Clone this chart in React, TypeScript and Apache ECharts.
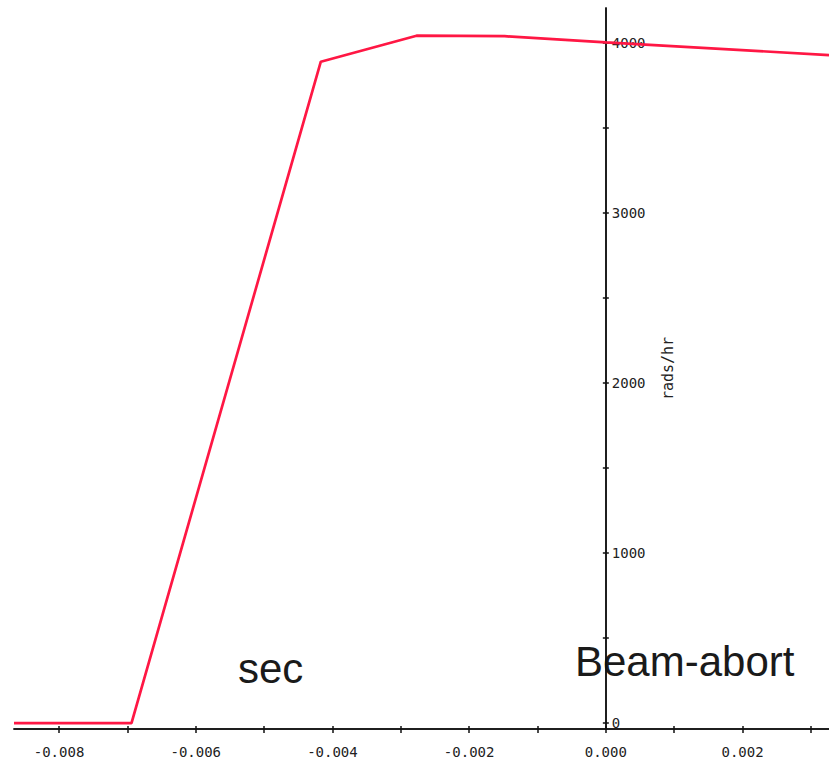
import React, { useEffect, useRef } from "react";
import * as echarts from "echarts";

// Time (s) relative to beam abort, and dose rate (rads/hr)
const timeSec = [-0.008659, -0.00694, -0.00417, -0.00277, -0.00148, 0, 0.003265];
const doseRate = [0, 0, 3890, 4043, 4040, 4004, 3929];

const xTickValues = [-0.008, -0.007, -0.006, -0.005, -0.004, -0.003, -0.002, -0.001, 0, 0.001, 0.002, 0.003];
const xLabelValues = [-0.008, -0.006, -0.004, -0.002, 0, 0.002];
const yTickValues = [0, 500, 1000, 1500, 2000, 2500, 3000, 3500, 4000];
const yLabelValues = [0, 1000, 2000, 3000, 4000];

const X_MIN = -0.008659;
const X_MAX = 0.003265;
const Y_MIN = -35;
const Y_MAX = 4206;

const MONO = "'DejaVu Sans Mono', 'Liberation Mono', monospace";
const AXIS_COLOR = "#111";

const CHART_W = 829;
const CHART_H = 761;
const GRID_LEFT = 14;
const GRID_RIGHT = 0;

export default function App() {
  const ref = useRef<HTMLDivElement>(null);

  useEffect(() => {
    if (!ref.current) return;
    const chart = echarts.init(ref.current, null, { renderer: "svg" });

    // pixel position of x = 0 inside the grid, derived from the axis range
    const plotW = CHART_W - GRID_LEFT - GRID_RIGHT;
    const zeroFromLeft = ((0 - X_MIN) / (X_MAX - X_MIN)) * plotW;
    const zeroFromRight = plotW - zeroFromLeft;

    const baseX = {
      type: "value" as const,
      min: X_MIN,
      max: X_MAX,
      position: "bottom" as const,
      splitLine: { show: false },
      axisLine: { show: true, onZero: false, lineStyle: { color: AXIS_COLOR, width: 1.5 } },
    };
    const baseY = {
      type: "value" as const,
      min: Y_MIN,
      max: Y_MAX,
      splitLine: { show: false },
      axisLine: { show: true, onZero: false, lineStyle: { color: AXIS_COLOR, width: 1.5 } },
    };

    chart.setOption({
      animation: false,
      backgroundColor: "#ffffff",
      grid: {
        left: GRID_LEFT,
        right: GRID_RIGHT,
        top: 8,
        bottom: 32,
        containLabel: false,
        outerBoundsMode: "none",
      },
      xAxis: [
        {
          ...baseX,
          axisTick: {
            show: true,
            inside: false,
            length: 4,
            customValues: xTickValues,
            lineStyle: { color: AXIS_COLOR, width: 1.5 },
          },
          axisLabel: {
            show: true,
            customValues: xLabelValues,
            margin: 16,
            fontFamily: MONO,
            fontSize: 14,
            color: "#222",
            formatter: (v: number) => v.toFixed(3),
          },
        },
        {
          ...baseX,
          axisTick: {
            show: true,
            inside: true,
            length: 3,
            customValues: xTickValues,
            lineStyle: { color: AXIS_COLOR, width: 1.5 },
          },
          axisLabel: { show: false },
        },
      ],
      yAxis: [
        {
          ...baseY,
          position: "right",
          offset: -zeroFromRight,
          name: "rads/hr",
          nameLocation: "middle",
          nameGap: 55,
          nameTextStyle: { fontFamily: MONO, fontSize: 15, color: "#222" },
          axisTick: {
            show: true,
            length: 3,
            customValues: yTickValues,
            lineStyle: { color: AXIS_COLOR, width: 1.5 },
          },
          axisLabel: {
            show: true,
            customValues: yLabelValues,
            margin: 6,
            fontFamily: MONO,
            fontSize: 14,
            color: "#222",
            formatter: (v: number) => String(v),
          },
        },
        {
          ...baseY,
          position: "left",
          offset: -zeroFromLeft,
          axisTick: {
            show: true,
            length: 3,
            customValues: yTickValues,
            lineStyle: { color: AXIS_COLOR, width: 1.5 },
          },
          axisLabel: { show: false },
        },
      ],
      series: [
        {
          type: "line",
          xAxisIndex: 0,
          yAxisIndex: 0,
          data: timeSec.map((t, i) => [t, doseRate[i]]),
          showSymbol: false,
          symbol: "none",
          lineStyle: { color: "#ff1744", width: 2.7 },
          clip: true,
        },
      ],
      graphic: [
        {
          type: "text",
          x: 238,
          y: 668,
          style: {
            text: "sec",
            font: "42px 'Liberation Sans', Arial, sans-serif",
            fill: "#1a1a1a",
            verticalAlign: "middle",
            align: "left",
          },
        },
        {
          type: "text",
          x: 575,
          y: 661,
          style: {
            text: "Beam-abort",
            font: "42px 'Liberation Sans', Arial, sans-serif",
            fill: "#1a1a1a",
            verticalAlign: "middle",
            align: "left",
          },
        },
      ],
    });

    return () => chart.dispose();
  }, []);

  return (
    <div
      ref={ref}
      style={{ position: "absolute", left: 0, top: 0, width: CHART_W, height: CHART_H, background: "#fff" }}
    />
  );
}
